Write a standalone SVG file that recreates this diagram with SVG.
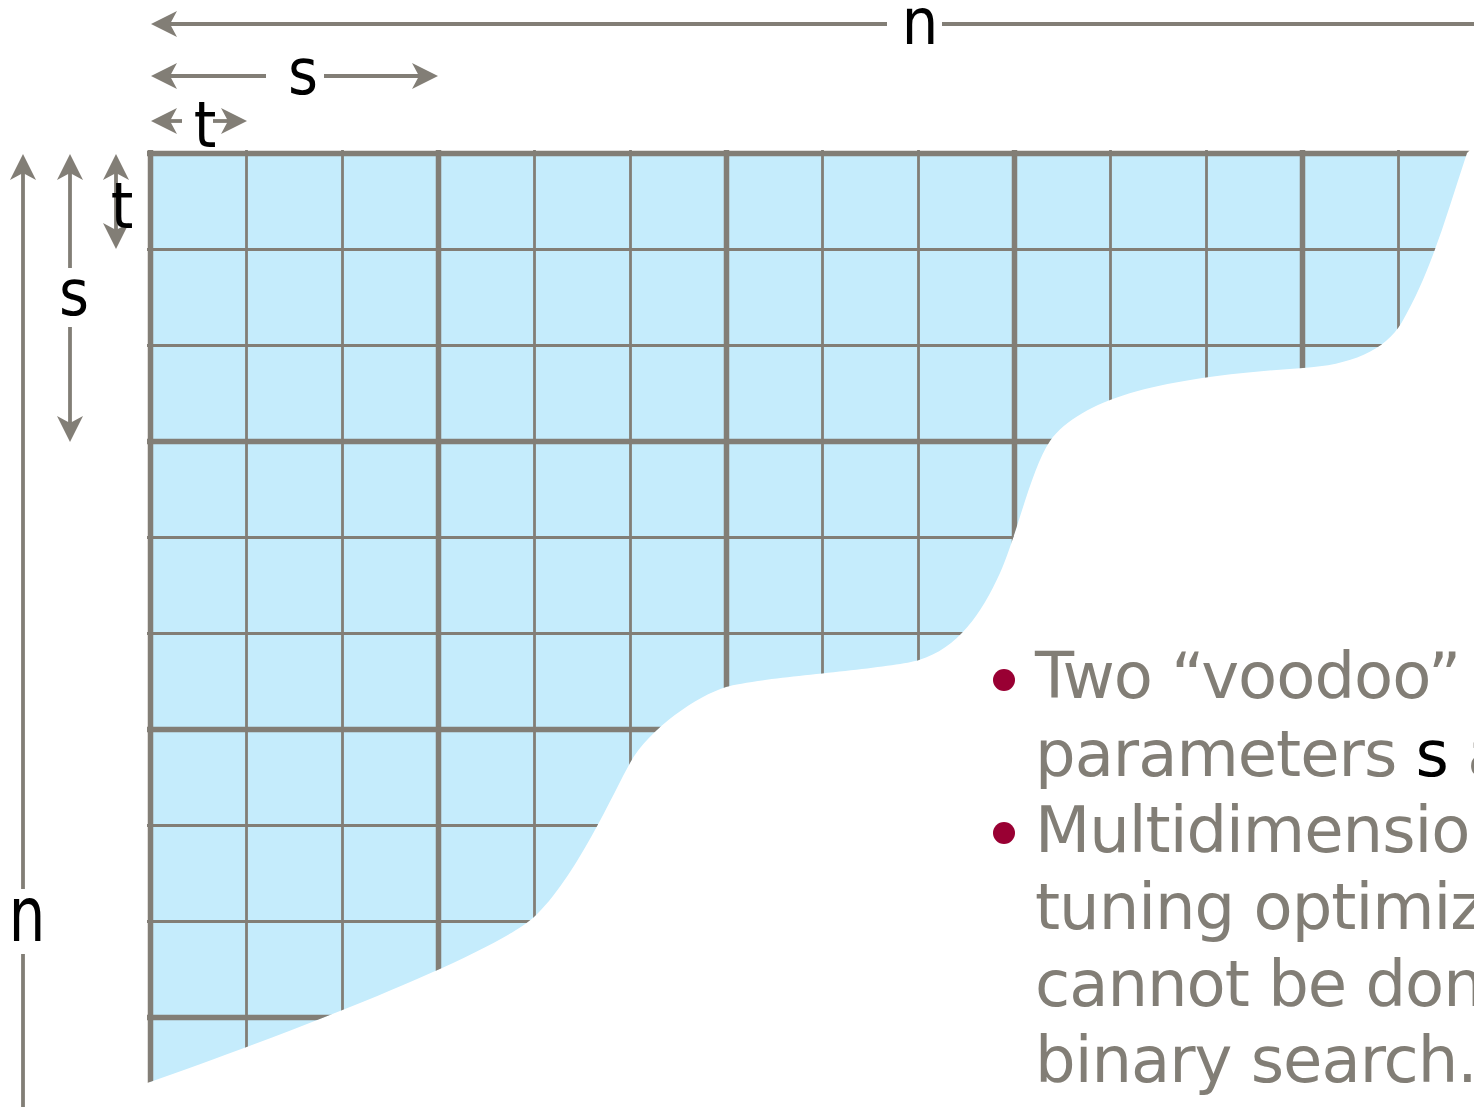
<svg xmlns="http://www.w3.org/2000/svg" width="1474" height="1107" viewBox="0 0 1474 1107">
  <style>
    .thin { stroke: #827E76; stroke-width: 2.8; fill: none; }
    .thick { stroke: #827E76; stroke-width: 5.5; fill: none; }
    .dim { stroke: #827E76; stroke-width: 3.8; fill: none; }
    .lbl { font-family: "DejaVu Sans Condensed", "DejaVu Sans", sans-serif; font-stretch: condensed; font-size: 64px; fill: #000; text-anchor: middle; }
    .body { font-family: "DejaVu Sans", "Liberation Sans", sans-serif; font-size: 64px; fill: #827E76; letter-spacing: -1px; }
    .bullet { fill: #990033; }
  </style>
  <defs>
    <marker id="arr" markerUnits="userSpaceOnUse" markerWidth="40" markerHeight="30" viewBox="-30 -15 40 30" refX="-10" refY="0" orient="auto-start-reverse">
      <path d="M0,0 L-26,-13 L-19,0 L-26,13 Z" fill="#827E76"/>
    </marker>
    <path id="region" d="M150,153 L1467,153 C1448,210 1432,270 1402,322 C1385,351 1350,365 1303,368 C1170,377 1085,395 1050,441 C1030.8,470 1016.4,536.6 1000,573 C981.5,614 957.4,648.4 919,660 C888.3,669.3 756.7,677.4 726,687 C697.2,696 649.6,728.2 630,763 C615.3,789.1 574.7,880.2 534,917 C489.6,957.2 263.4,1042.4 150,1082 Z"/>
    <clipPath id="clip">
      <path d="M147,150 L1470,150 L1467,153 C1448,210 1432,270 1402,322 C1385,351 1350,365 1303,368 C1170,377 1085,395 1050,441 C1030.8,470 1016.4,536.6 1000,573 C981.5,614 957.4,648.4 919,660 C888.3,669.3 756.7,677.4 726,687 C697.2,696 649.6,728.2 630,763 C615.3,789.1 574.7,880.2 534,917 C489.6,957.2 263.4,1042.4 150,1082 L147,1083 Z"/>
    </clipPath>
  </defs>

  <g id="matrix">
    <use href="#region" fill="#C5ECFC"/>
    <g clip-path="url(#clip)">
      <g class="thin">
        <path d="M246.5,148V1090M342.5,148V1090M534.5,148V1090M630.5,148V1090M822.5,148V1090M918.5,148V1090M1110.5,148V1090M1206.5,148V1090M1398.5,148V1090"/>
        <path d="M145,249.5H1475M145,345.5H1475M145,537.5H1475M145,633.5H1475M145,825.5H1475M145,921.5H1475"/>
      </g>
      <g class="thick">
        <path d="M150.5,148V1090M438.5,148V1090M726.5,148V1090M1014.5,148V1090M1302.5,148V1090"/>
        <path d="M145,153.5H1475M145,441.5H1475M145,729.5H1475M145,1017.5H1475"/>
      </g>
    </g>
  </g>

  <g id="connectors">
    <path class="dim" d="M161,24H887" marker-start="url(#arr)"/>
    <path class="dim" d="M942,24H1480"/>
    <path class="dim" d="M161,76H266" marker-start="url(#arr)"/>
    <path class="dim" d="M324,76H428" marker-end="url(#arr)"/>
    <path class="dim" d="M161,121H182" marker-start="url(#arr)"/>
    <path class="dim" d="M213,121H237" marker-end="url(#arr)"/>
    <path class="dim" d="M23,164V889" marker-start="url(#arr)"/>
    <path class="dim" d="M23,954V1110"/>
    <path class="dim" d="M70,164V268" marker-start="url(#arr)"/>
    <path class="dim" d="M70,327V432" marker-end="url(#arr)"/>
    <path class="dim" d="M116,164V239" marker-start="url(#arr)" marker-end="url(#arr)"/>
  </g>

  <g id="labels">
    <text class="lbl" x="920" y="44">n</text>
    <text class="lbl" x="303" y="94">s</text>
    <text class="lbl" x="205" y="147">t</text>
    <text class="lbl" x="74" y="315">s</text>
    <text class="lbl" x="122" y="228">t</text>
    <text class="lbl" transform="translate(27,941) scale(1,1.2)" x="0" y="0">n</text>
  </g>

  <g id="bullets">
    <circle class="bullet" cx="1004" cy="680" r="11"/>
    <circle class="bullet" cx="1004" cy="833" r="11"/>
    <text class="body" x="1035" y="698">Two “voodoo”</text>
    <text class="body" x="1035" y="776">parameters <tspan fill="#000">s</tspan> and</text>
    <text class="body" x="1035" y="852">Multidimensional</text>
    <text class="body" x="1035" y="929">tuning optimization</text>
    <text class="body" x="1035" y="1006">cannot be done</text>
    <text class="body" x="1035" y="1082">binary search.</text>
  </g>
</svg>
